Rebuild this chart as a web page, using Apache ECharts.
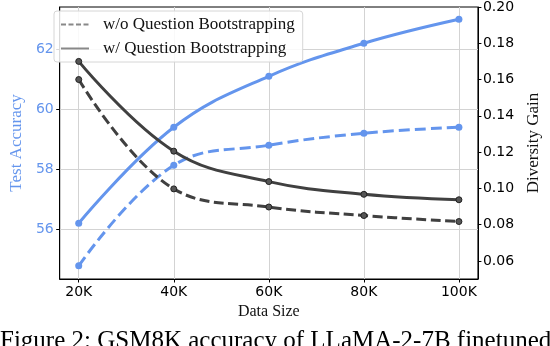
<!DOCTYPE html>
<html>
<head>
<meta charset="utf-8">
<script src="https://cdn.jsdelivr.net/npm/echarts@6/dist/echarts.min.js"></script>
<style>html,body{margin:0;padding:0;background:#fff}#c{width:550px;height:346px}</style>
</head>
<body>
<div id="c"></div>
<script>
const dataSizes = [20, 40, 60, 80, 100]; // in K
const xTicks = [20, 40, 60, 80, 100];
const accTicks = [56, 58, 60, 62];
const gainTicks = [0.06, 0.08, 0.10, 0.12, 0.14, 0.16, 0.18, 0.20];
const accWithQB = [56.2, 59.4, 61.1, 62.2, 63.0];
const accWithoutQB = [54.78, 58.13, 58.8, 59.2, 59.4];
const gainWithQB = [0.170, 0.1205, 0.1037, 0.0967, 0.0937];
const gainWithoutQB = [0.160, 0.0997, 0.0897, 0.0850, 0.0817];
const legendNames = ['w/o Question Bootstrapping', 'w/ Question Bootstrapping'];

const BLUE = '#6495ED';
const DARK = '#404040';
const pair = (ys) => dataSizes.map((x, i) => [x, ys[i]]);

const chart = echarts.init(document.getElementById('c'), null, {renderer: 'canvas'});
chart.setOption({
  animation: false,
  backgroundColor: '#fff',
  grid: {left: 48, right: 61, top: 6, bottom: 67, show: true, borderColor: '#000', borderWidth: 1},
  legend: {
    orient: 'vertical', left: 54, top: 11,
    data: legendNames,
    itemWidth: 28, itemHeight: 14, itemGap: 7,
    padding: [5, 8, 5, 6],
    borderColor: '#d6d6d6', borderWidth: 1, borderRadius: 3,
    backgroundColor: 'rgba(255,255,255,0.85)',
    itemStyle: {opacity: 0},
    textStyle: {fontFamily: 'Liberation Serif', fontSize: 17, color: '#111', padding: [0, 0, 0, 9]}
  },
  xAxis: {
    type: 'value', min: 16, max: 104,
    name: 'Data Size', nameLocation: 'middle', nameGap: 23,
    nameTextStyle: {fontFamily: 'Liberation Serif', fontSize: 16, color: '#111'},
    axisLine: {show: true, lineStyle: {color: '#000'}},
    axisTick: {show: true, length: 3.5, customValues: xTicks, lineStyle: {color: '#000'}},
    axisLabel: {customValues: xTicks, formatter: v => v + 'K', margin: 6,
      fontFamily: 'DejaVu Sans', fontSize: 14, color: '#000'},
    splitLine: {show: true, lineStyle: {color: '#d3d3d3', width: 1}}
  },
  yAxis: [{
    type: 'value', min: 54.34, max: 63.41, position: 'left',
    name: 'Test Accuracy', nameLocation: 'middle', nameGap: 31, nameRotate: 90,
    nameTextStyle: {fontFamily: 'Liberation Serif', fontSize: 17, color: BLUE},
    axisLine: {show: true, lineStyle: {color: '#000'}},
    axisTick: {show: true, length: 3.5, customValues: accTicks, lineStyle: {color: '#000'}},
    axisLabel: {customValues: accTicks, margin: 6, fontFamily: 'DejaVu Sans', fontSize: 14, color: BLUE},
    splitLine: {show: true, lineStyle: {color: '#d3d3d3', width: 1}}
  }, {
    type: 'value', min: 0.05, max: 0.20, position: 'right',
    name: 'Diversity Gain', nameLocation: 'middle', nameGap: 37, nameRotate: 90,
    nameTextStyle: {fontFamily: 'Liberation Serif', fontSize: 17, color: '#111'},
    axisLine: {show: true, lineStyle: {color: '#000'}},
    axisTick: {show: true, length: 3.5, customValues: gainTicks, lineStyle: {color: '#000'}},
    axisLabel: {customValues: gainTicks, margin: 5, formatter: v => v.toFixed(2),
      fontFamily: 'DejaVu Sans', fontSize: 14, color: '#000'},
    splitLine: {show: false}
  }],
  series: [
    {name: legendNames[0], type: 'line', data: [], symbol: 'none',
      lineStyle: {color: '#888', width: 1.5, type: [5, 2.5]}, itemStyle: {color: '#888'}},
    {name: legendNames[1], type: 'line', data: [], symbol: 'none',
      lineStyle: {color: '#888', width: 1.5}, itemStyle: {color: '#888'}},
    {name: 'accW', type: 'line', yAxisIndex: 0, data: pair(accWithQB), smooth: 0.4,
      symbol: 'circle', symbolSize: 7, lineStyle: {color: BLUE, width: 3}, itemStyle: {color: BLUE}, z: 3},
    {name: 'accWo', type: 'line', yAxisIndex: 0, data: pair(accWithoutQB), smooth: 0.4,
      symbol: 'circle', symbolSize: 7, lineStyle: {color: BLUE, width: 3, type: [11, 5]}, itemStyle: {color: BLUE}, z: 3},
    {name: 'gainW', type: 'line', yAxisIndex: 1, data: pair(gainWithQB), smooth: 0.4,
      symbol: 'circle', symbolSize: 6, lineStyle: {color: DARK, width: 3},
      itemStyle: {color: '#555', borderColor: '#222', borderWidth: 1}, z: 4},
    {name: 'gainWo', type: 'line', yAxisIndex: 1, data: pair(gainWithoutQB), smooth: 0.4,
      symbol: 'circle', symbolSize: 6, lineStyle: {color: DARK, width: 3, type: [10, 4.5]},
      itemStyle: {color: '#555', borderColor: '#222', borderWidth: 1}, z: 4}
  ],
  graphic: [{
    type: 'text', left: 0, top: 329,
    style: {text: 'Figure 2: GSM8K accuracy of LLaMA-2-7B finetuned', font: '25px "Liberation Serif"', fill: '#000'}
  }]
});
</script>
</body>
</html>
